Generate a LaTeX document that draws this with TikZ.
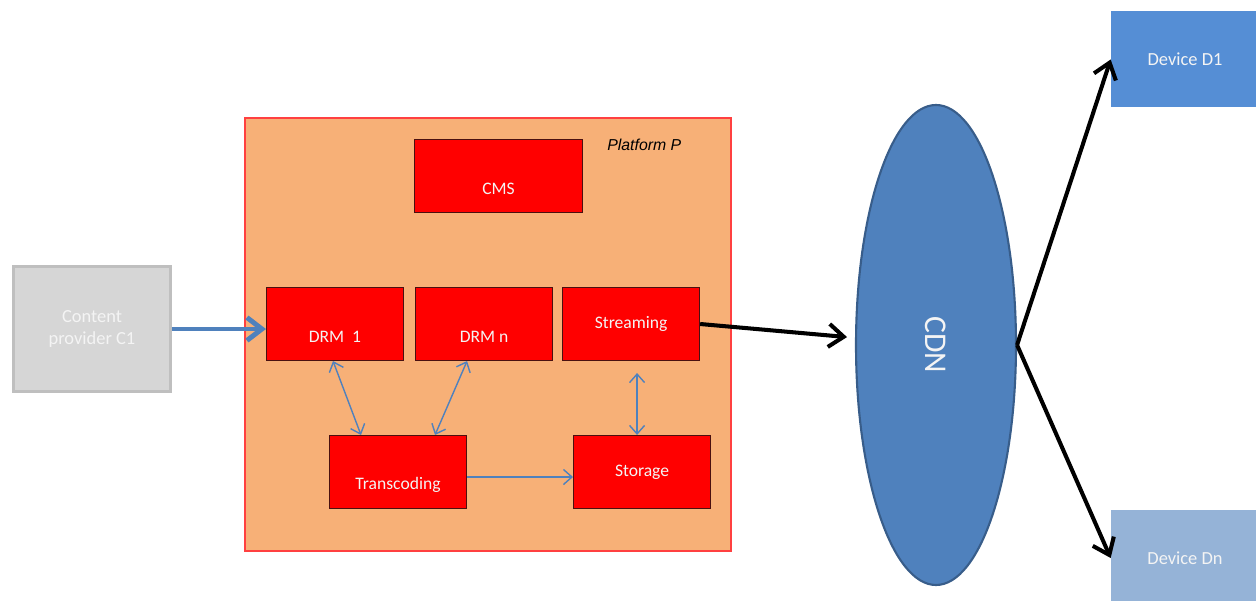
\documentclass[tikz,border=0pt]{standalone}
\usepackage{fontspec}
\setmainfont{Carlito}
\newfontfamily\arialfont{Liberation Sans}
\usepackage{xcolor}
\definecolor{colorPlatform}{HTML}{F7B077}
\definecolor{colorPlatformLine}{HTML}{FF4040}
\definecolor{colorBlock}{HTML}{FF0000}
\definecolor{colorBlockLine}{HTML}{4A1010}
\definecolor{colorLink}{HTML}{4F81BD}
\definecolor{colorCdnLine}{HTML}{385D8A}
\definecolor{colorProvider}{HTML}{D6D6D6}
\definecolor{colorProviderLine}{HTML}{BFBFBF}
\definecolor{colorDeviceA}{HTML}{558ED5}
\definecolor{colorDeviceB}{HTML}{95B3D7}
\definecolor{colorText}{HTML}{F4F4F4}
\usepackage{tikz}
\usetikzlibrary{arrows.meta, positioning, shapes.geometric}
\tikzset{
  block/.style={draw=colorBlockLine, line width=0.6pt, fill=colorBlock, minimum width=2.74cm, minimum height=1.46cm, inner sep=0pt, text=colorText, font=\fontsize{10}{12}\selectfont},
  lowtext/.style={label={[text=colorText, font=\fontsize{10}{12}\selectfont, yshift=-0.25cm]center:#1}},
  device/.style={minimum width=2.96cm, minimum height=1.92cm, inner sep=0pt, text=colorText, font=\fontsize{10.5}{12}\selectfont},
  thinlink/.style={colorLink, line width=0.8pt, {Straight Barb[length=0.17cm, width=0.3cm]}-{Straight Barb[length=0.17cm, width=0.3cm]}},
  biglink/.style={line width=2.3pt, -{Straight Barb[length=0.3cm, width=0.46cm]}}
}
\begin{document}
\begin{tikzpicture}
\useasboundingbox (0,0) rectangle (25.12,12);
\node[draw=colorPlatformLine, line width=0.6pt, fill=colorPlatform, minimum width=9.72cm, minimum height=8.66cm] (platform) at (9.76,5.31) {};
\node[font=\arialfont\itshape\fontsize{9}{11}\selectfont, inner sep=0pt, anchor=north east, below left=0.42cm and 1.0cm of platform.north east] (plabel) {Platform P};
\node[draw=colorProviderLine, line width=1.7pt, fill=colorProvider, minimum width=3.14cm, minimum height=2.5cm, align=center, text=colorText, font=\fontsize{10.5}{13}\selectfont] (prov) at (1.84,5.42) {Content\\provider C1};
\node[block, minimum width=3.36cm, lowtext=CMS] (cms) at (9.97,8.48) {};
\node[block, lowtext=DRM~~1] (drm1) at (6.70,5.52) {};
\node[block, right=0.22cm of drm1, lowtext=DRM n] (drmn) {};
\node[block, right=0.18cm of drmn] (stream) {Streaming};
\node[block, lowtext=Transcoding] (trans) at (7.96,2.56) {};
\node[block, right=2.12cm of trans] (stor) {Storage};
\node[ellipse, draw=colorCdnLine, line width=1.2pt, fill=colorLink, minimum width=3.2cm, minimum height=9.6cm, label={[rotate=-90, text=colorText, font=\fontsize{18}{20}\selectfont]center:CDN}] (cdn) at (18.72,5.10) {};
\node[device, fill=colorDeviceA] (dev1) at (23.70,10.81) {Device D1};
\node[device, fill=colorDeviceB] (devn) at (23.70,0.84) {Device Dn};
\draw[biglink, colorLink, line width=2.8pt] (prov) -- (prov -| drm1.west);
\draw[thinlink] ([xshift=-0.04cm]drm1.south) -- ([xshift=-0.74cm]trans.north);
\draw[thinlink] ([xshift=-0.34cm]drmn.south) -- ([xshift=0.74cm]trans.north);
\draw[thinlink, shorten >=0.24cm] ([xshift=-0.1cm]stor.north) -- ([xshift=-0.1cm]stor.north |- stream.south);
\draw[thinlink, -{Straight Barb[length=0.17cm, width=0.3cm]}] ([yshift=-0.1cm]trans.east) -- ([yshift=-0.1cm]trans.east -| stor.west);
\draw[biglink, shorten >=0.16cm] (stream.east) -- (cdn);
\draw[biglink] (cdn.east) -- (dev1.west);
\draw[biglink] (cdn.east) -- (devn.west);
\end{tikzpicture}
\end{document}
